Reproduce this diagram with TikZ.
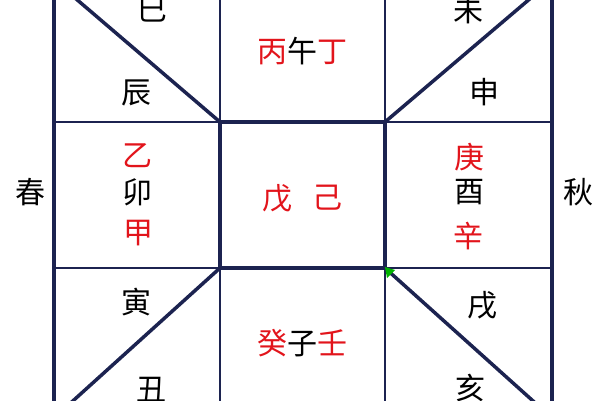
\documentclass[tikz,border=0pt]{standalone}
\usepackage{fontspec}
\newfontfamily\cjk{Noto Sans CJK SC}
\definecolor{navy}{HTML}{1C2350}
\definecolor{ganred}{HTML}{E2141B}
\begin{document}
\begin{tikzpicture}[x=1pt,y=-1pt,
  heavy/.style = {draw=navy,line width=3.5pt},
  mid/.style   = {draw=navy,line width=2.5pt},
  light/.style = {draw=navy,line width=2pt},
  zhi/.style   = {font=\cjk\fontsize{30}{32}\selectfont,
                  text=black,inner sep=0pt},
  gan/.style   = {zhi,text=ganred}]
  \useasboundingbox (0,0) rectangle (600,400);
  \clip (0,0) rectangle (600,400);
  \coordinate (TL) at (54,-20);  \coordinate (TR) at (552,-20);
  \coordinate (BL) at (54,418);  \coordinate (BR) at (552,418);
  \coordinate (c1) at (220,122); \coordinate (c2) at (385,122);
  \coordinate (c3) at (385,268); \coordinate (c4) at (220,268);

  \path[heavy] (TL) -- (BL) (TR) -- (BR);
  \path[light] (c1 |- TL) -- (c1) (c2 |- TL) -- (c2)
               (c4 |- BL) -- (c4) (c3 |- BL) -- (c3);
  \path[mid] (TL |- c1) -- (c1) (c2) -- (TR |- c2)
             (BL |- c4) -- (c4) (c3) -- (BR |- c3);
  \path[heavy] (c1) rectangle (c3);
  \path[heavy] (TL) -- (c1) (TR) -- (c2) (BL) -- (c4) (BR) -- (c3);
  \fill[green!70!black] (385,267) -- (395,270) -- (387,278) -- cycle;

  \node[zhi] (si)   at (152,10)  {巳};
  \node[zhi] (chen) at (136,93)  {辰};
  \node[zhi] (wu)   at (302,51)
    {{\color{ganred}丙}午{\color{ganred}丁}};
  \node[zhi] (wei)  at (468,10)  {未};
  \node[zhi] (shen) at (484,92)  {申};

  \node[gan] (yi)   at (137,156) {乙};
  \node[zhi] (mao)  at (137,192) {卯};
  \node[gan] (jia)  at (138,233) {甲};
  \node[gan] (wuu)  at (277,198) {戊};
  \node[gan] (ji)   at (327,198) {己};
  \node[gan] (geng) at (469,157) {庚};
  \node[zhi] (you)  at (469,192) {酉};
  \node[gan] (xin)  at (468,236) {辛};

  \node[zhi] (yin)  at (136,302) {寅};
  \node[zhi] (chou) at (151,390) {丑};
  \node[zhi] (zi)   at (302,343)
    {{\color{ganred}癸}子{\color{ganred}壬}};
  \node[zhi] (xu)   at (482,305) {戌};
  \node[zhi] (hai)  at (470,388) {亥};

  \node[zhi] (chun) at (31,192)  {春};
  \node[zhi] (qiu)  at (578,192) {秋};
\end{tikzpicture}
\end{document}
